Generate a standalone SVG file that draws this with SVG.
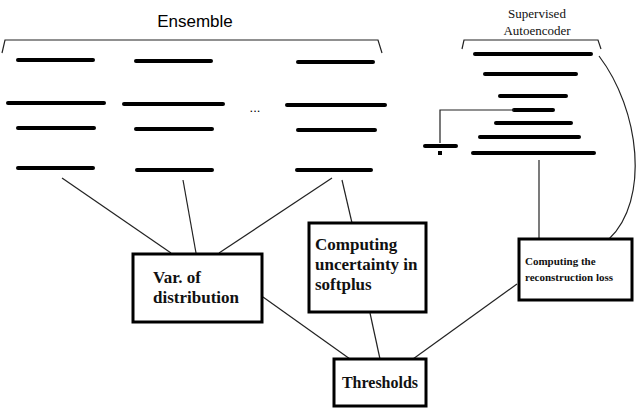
<svg xmlns="http://www.w3.org/2000/svg" width="640" height="409" viewBox="0 0 640 409">
<style>
.b{stroke:#000;stroke-width:4;stroke-linecap:round}
.c{stroke:#222;stroke-width:1.2;fill:none}
.box{fill:#fff;stroke:#000;stroke-width:3}
.t{font-family:"Liberation Serif",serif;font-weight:bold;fill:#111}
</style>
<rect width="640" height="409" fill="#fff"/>
<g id="ensemble">
<text x="195" y="27" font-family="Liberation Sans,sans-serif" font-size="17" text-anchor="middle">Ensemble</text>
<path class="c" d="M2,53 L5,40 L378,40 L382,53"/>
<g class="b">
<line x1="18" y1="60" x2="93" y2="60"/><line x1="8" y1="103" x2="104" y2="103"/><line x1="18" y1="128" x2="94" y2="128"/><line x1="18" y1="168" x2="93" y2="168"/>
<line x1="136" y1="61" x2="211" y2="61"/><line x1="124" y1="104" x2="223" y2="104"/><line x1="136" y1="129" x2="212" y2="129"/><line x1="137" y1="170" x2="212" y2="170"/>
<line x1="298" y1="62" x2="373" y2="62"/><line x1="287" y1="105" x2="385" y2="105"/><line x1="298" y1="130" x2="375" y2="130"/><line x1="297" y1="170" x2="371" y2="170"/>
</g>
<text x="255" y="112" font-family="Liberation Sans,sans-serif" font-size="13" text-anchor="middle">...</text>
</g>
<g id="autoencoder">
<text class="t" x="537" y="18" font-size="13" font-weight="normal" text-anchor="middle" style="font-weight:normal">Supervised</text>
<text class="t" x="537" y="35" font-size="13" text-anchor="middle" style="font-weight:normal">Autoencoder</text>
<path class="c" d="M462,49 L464,40 L598,40 L601,49"/>
<g class="b">
<line x1="475" y1="54" x2="591" y2="54"/><line x1="485" y1="74" x2="576" y2="74"/><line x1="500" y1="96" x2="566" y2="96"/><line x1="514" y1="110" x2="553" y2="110"/><line x1="496" y1="123" x2="571" y2="123"/><line x1="480" y1="137" x2="579" y2="137"/><line x1="473" y1="153" x2="594" y2="153"/>
<line x1="425" y1="146" x2="456" y2="146"/>
</g>
<path class="c" d="M514,110 L440,110 L440,143"/>
<rect x="438" y="151" width="4" height="4" fill="#000"/>
</g>
<g id="connectors" class="c">
<line x1="62" y1="178" x2="171" y2="253"/>
<line x1="183" y1="180" x2="196" y2="253"/>
<line x1="332" y1="178" x2="219" y2="253"/>
<line x1="342" y1="180" x2="352" y2="223"/>
<line x1="263" y1="297" x2="350" y2="359"/>
<line x1="370" y1="313" x2="380" y2="359"/>
<line x1="517" y1="284" x2="413" y2="359"/>
<line x1="539" y1="160" x2="539" y2="239"/>
<path d="M599,56 C640,110 650,200 609,239"/>
</g>
<g id="var"><rect class="box" x="133" y="254" width="129" height="68"/>
<text class="t" font-size="17" x="153" y="283">Var. of</text><text class="t" font-size="17" x="153" y="303">distribution</text></g>
<g id="uncertainty"><rect class="box" x="309" y="223" width="117" height="89"/>
<text class="t" font-size="17" x="315" y="250">Computing</text><text class="t" font-size="17" x="315" y="270">uncertainty in</text><text class="t" font-size="17" x="315" y="290">softplus</text></g>
<g id="recon"><rect class="box" x="519" y="239" width="113" height="61"/>
<text class="t" font-size="11" x="525" y="265">Computing the</text><text class="t" font-size="11" x="525" y="281">reconstruction loss</text></g>
<g id="thresholds"><rect class="box" x="334" y="359" width="92" height="47"/>
<text class="t" font-size="16" x="380" y="388" text-anchor="middle">Thresholds</text></g>
</svg>
